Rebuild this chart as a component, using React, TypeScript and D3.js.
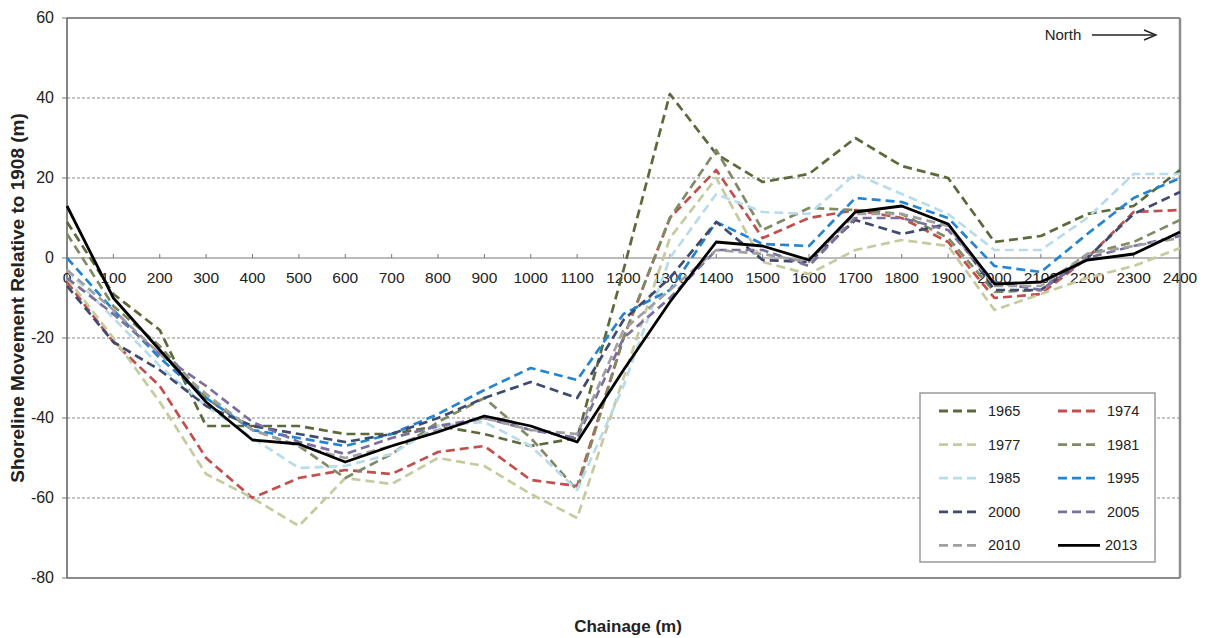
import React from "react";
import * as d3 from "d3";

// chainage positions (m)
const chainage = [0, 100, 200, 300, 400, 500, 600, 700, 800, 900, 1000, 1100, 1200, 1300, 1400, 1500, 1600, 1700, 1800, 1900, 2000, 2100, 2200, 2300, 2400];
const yTicks = [-80, -60, -40, -20, 0, 20, 40, 60];
const gridLevels = [-60, -40, -20, 20, 40];

// shoreline movement relative to 1908, per survey year
const y1965 = [9, -9, -18, -42, -42, -42, -44, -44, -42, -44, -47, -45, -3, 41, 26, 19, 21, 30, 23, 20, 4, 5.5, 11, 13, 22];
const y1974 = [-6, -21, -32, -50, -60, -55, -53, -54, -48.5, -47, -55.5, -57, -20, 10, 22, 5, 10, 12, 10, 4, -10, -9, 0, 11.5, 12];
const y1977 = [-5, -20, -36, -54, -60, -67, -55, -56.5, -50, -52, -59, -65, -30, 5, 20, -1, -4, 2, 4.5, 3, -13, -9, -5, -2, 2.5];
const y1981 = [6, -12, -22, -35, -43, -47, -55, -49, -41, -35, -45, -58, -20, 10, 27, 7, 12.5, 12, 11, 5, -8.5, -8, 1, 4, 9.5];
const y1985 = [-3, -15, -27, -37, -45, -52.5, -52, -49, -42, -41, -47, -58, -32, 0, 16, 11.5, 11, 21, 16, 11, 2, 2, 10, 21, 21];
const y1995 = [0, -13, -25, -35, -43, -45, -47, -44, -39, -33, -27.5, -30.5, -14, -8, 9, 3.5, 3, 15, 14, 10, -2, -3.5, 6, 15, 20];
const y2000 = [-7, -21, -28, -37, -42, -44, -46, -44, -40, -35, -31, -35, -15.5, -5, 9, -0.5, -1, 9.5, 6, 8.5, -8, -8, 0, 11, 16.5];
const y2005 = [-5, -14, -24, -32, -41, -46, -49, -45, -42, -40, -43, -45, -20, -10, 2, 2, -2, 10, 10, 7, -6, -8, 0, 3, 5.5];
const y2010 = [-3, -13, -24, -34, -43, -47, -50, -47, -43, -40, -43, -44, -18, -8, 2, 1, -1, 11, 11, 8, -7, -7, 1, 3, 5];
const y2013 = [13, -10, -23, -36, -45.5, -46.5, -51, -47, -43.5, -39.5, -42, -46, -28, -11, 4, 3, -0.5, 11.5, 13, 8.5, -6.5, -6, -0.5, 1, 6.5];

const years = ["1965", "1974", "1977", "1981", "1985", "1995", "2000", "2005", "2010", "2013"];
const seriesValues = [y1965, y1974, y1977, y1981, y1985, y1995, y2000, y2005, y2010, y2013];
const colors = ["#5b6a3a", "#c0504d", "#c6ca9e", "#7e8b64", "#b9dcea", "#2385d0", "#3e4a6e", "#7c6f9e", "#a0a0a0", "#000000"];

const W = 1206, H = 638;
const left = 67, right = 1180, top = 18, bottom = 578;

export default function App() {
  const x = d3.scaleLinear().domain([0, 2400]).range([left, right]);
  const y = d3.scaleLinear().domain([-80, 60]).range([bottom, top]);
  const line = d3.line<number>()
    .x((d, i) => x(chainage[i]))
    .y((d) => y(d));
  const font = "'Liberation Sans', Arial, sans-serif";
  const y0 = y(0);

  // legend layout
  const legX = 920, legY = 393, legW = 235, legH = 169;
  const rowGap = 33.6;

  return (
    <svg width={W} height={H} style={{ position: "absolute", left: 0, top: 0, background: "#fff" }} fontFamily={font}>
      {/* grid */}
      {gridLevels.map((g) => (
        <line key={g} x1={left} x2={right} y1={y(g)} y2={y(g)} stroke="#8a8a8a" strokeWidth={1} strokeDasharray="3,2" />
      ))}
      {/* frame */}
      <line x1={left} x2={right} y1={top} y2={top} stroke="#8c8c8c" strokeWidth={2} />
      <line x1={right} x2={right} y1={top} y2={bottom} stroke="#8c8c8c" strokeWidth={2.5} />
      <line x1={left} x2={right} y1={bottom} y2={bottom} stroke="#8c8c8c" strokeWidth={2} />
      <line x1={left} x2={left} y1={top} y2={bottom} stroke="#666" strokeWidth={1.6} />
      {/* zero axis */}
      <line x1={left} x2={right} y1={y0} y2={y0} stroke="#777" strokeWidth={1.2} />
      {chainage.map((c) => (
        <g key={c}>
          <line x1={x(c)} x2={x(c)} y1={y0 - 4} y2={y0} stroke="#777" strokeWidth={1} />
          <text x={x(c)} y={y0 + 25} textAnchor="middle" fontSize={15.5} fill="#222">{c}</text>
        </g>
      ))}
      {yTicks.map((t) => (
        <g key={t}>
          <line x1={left - 5} x2={left} y1={y(t)} y2={y(t)} stroke="#777" strokeWidth={1} />
          <text x={left - 13} y={y(t) + 5} textAnchor="end" fontSize={16} fill="#222">{t}</text>
        </g>
      ))}
      {/* series */}
      {seriesValues.map((vals, i) => (
        <path
          key={years[i]}
          d={line(vals) || ""}
          fill="none"
          stroke={colors[i]}
          strokeWidth={years[i] === "2013" ? 2.8 : 2.7}
          strokeDasharray={years[i] === "2013" ? undefined : "9,5"}
          strokeLinejoin="round"
        />
      ))}
      {/* North arrow */}
      <text x={1063} y={40} textAnchor="middle" fontSize={15} fill="#222">North</text>
      <line x1={1092} x2={1154} y1={35} y2={35} stroke="#222" strokeWidth={1.4} />
      <path d="M1144,30 L1156,35 L1144,40" fill="none" stroke="#222" strokeWidth={1.4} />
      {/* legend */}
      <rect x={legX} y={legY} width={legW} height={legH} fill="#fff" stroke="#9a9a9a" strokeWidth={1.5} />
      {years.map((yr, i) => {
        const col = i % 2, row = Math.floor(i / 2);
        const lx = legX + 19 + col * 119;
        const ly = legY + 18 + row * rowGap;
        return (
          <g key={yr}>
            <line x1={lx} x2={lx + 42} y1={ly} y2={ly} stroke={colors[i]} strokeWidth={2.8}
              strokeDasharray={yr === "2013" ? undefined : "9,5"} />
            <text x={lx + 49 - (yr === "2013" ? 2 : 0)} y={ly + 5} fontSize={14.5} fill="#222">{yr}</text>
          </g>
        );
      })}
      {/* axis titles */}
      <text transform={`translate(24,${(top + bottom) / 2}) rotate(-90)`} textAnchor="middle" fontSize={19} fontWeight="bold" fill="#222">
        Shoreline Movement Relative to 1908 (m)
      </text>
      <text x={628} y={632} textAnchor="middle" fontSize={17} fontWeight="bold" fill="#222">Chainage (m)</text>
    </svg>
  );
}
